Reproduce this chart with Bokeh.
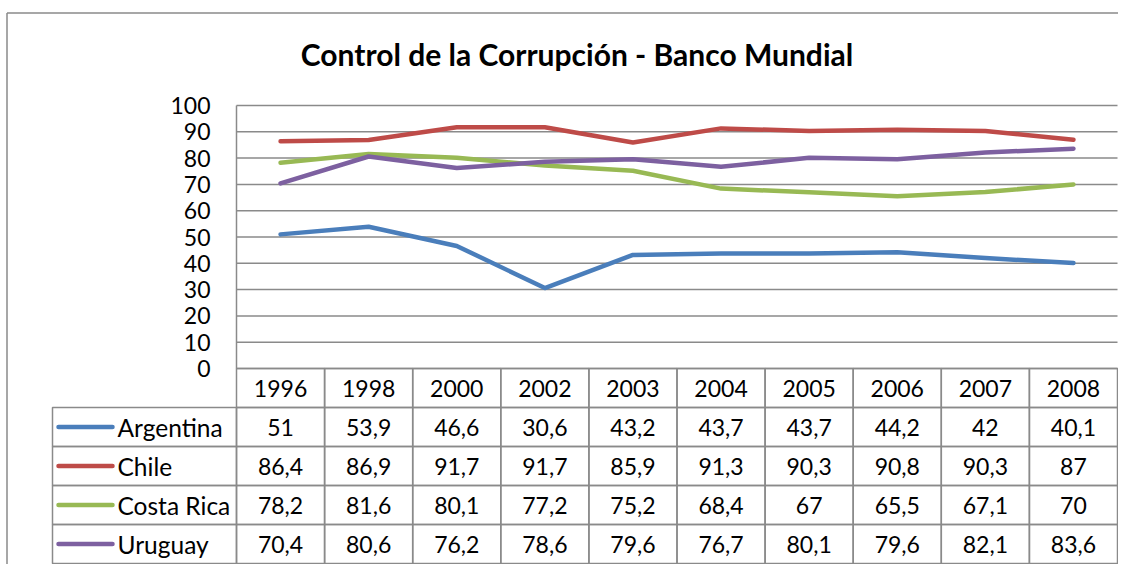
from bokeh.plotting import figure
from bokeh.models import Range1d, FixedTicker, Label
from bokeh.core.properties import value
from bokeh.embed import file_html
from bokeh.resources import INLINE

# ---------------- data ----------------
chart_title = "Control de la Corrupción - Banco Mundial"
years = ["1996", "1998", "2000", "2002", "2003", "2004", "2005", "2006", "2007", "2008"]
argentina = [51, 53.9, 46.6, 30.6, 43.2, 43.7, 43.7, 44.2, 42, 40.1]
chile = [86.4, 86.9, 91.7, 91.7, 85.9, 91.3, 90.3, 90.8, 90.3, 87]
costa_rica = [78.2, 81.6, 80.1, 77.2, 75.2, 68.4, 67, 65.5, 67.1, 70]
uruguay = [70.4, 80.6, 76.2, 78.6, 79.6, 76.7, 80.1, 79.6, 82.1, 83.6]
series_names = ["Argentina", "Chile", "Costa Rica", "Uruguay"]
series_values = [argentina, chile, costa_rica, uruguay]
series_colors = ["#4A7EBB", "#BE4B48", "#98B954", "#7D60A0"]
yticks = [0, 10, 20, 30, 40, 50, 60, 70, 80, 90, 100]

# ---------------- layout ----------------
W, H = 1118, 564
PLOT_L = 236.0     # px from canvas left to value axis
COL_W = 88.1       # px per category column
Y0 = 368.0         # px from canvas top to value 0
PX = 2.63          # px per value unit
ROW_PX = 39.0      # table row height, px
LABEL_PX = 184.0   # width of the row-label column, px

x_start = -PLOT_L / COL_W
x_end = (W - PLOT_L) / COL_W
y_end = Y0 / PX
y_start = -(H - Y0) / PX
ROW_H = ROW_PX / PX
LABEL_W = LABEL_PX / COL_W
n = len(years)

GRID = "#8A8A8A"
FONT = value("Lato")
NUM_SIZE = "23px"
NAME_SIZE = "24.5px"

p = figure(width=W, height=H, x_range=Range1d(x_start, x_end),
           y_range=Range1d(y_start, y_end), output_backend="svg",
           toolbar_location=None, min_border=0, x_axis_location=None)
p.grid.visible = False
p.outline_line_color = None
p.background_fill_color = "white"
p.border_fill_color = "white"

# value axis
yax = p.yaxis[0]
yax.fixed_location = 0
yax.ticker = FixedTicker(ticks=yticks)
yax.bounds = (0, 100)
yax.axis_line_color = GRID
yax.axis_line_width = 1.5
yax.major_tick_out = 0
yax.major_tick_in = 0
yax.minor_tick_line_color = None
yax.major_label_standoff = 26
yax.major_label_text_font = "Lato"
yax.major_label_text_font_size = NUM_SIZE
yax.major_label_text_color = "black"

# horizontal gridlines (only over the plot area)
p.segment(x0=0, x1=n, y0=yticks, y1=yticks, line_color=GRID, line_width=1.5)

# outer chart border (left and top)
bx = (6.5 - PLOT_L) / COL_W
by = (Y0 - 12.5) / PX
p.segment(x0=[bx, bx], x1=[x_end, bx], y0=[by, by], y1=[by, y_start],
          line_color=GRID, line_width=1.5)

# series lines
xs = [i + 0.5 for i in range(n)]
for vals, col in zip(series_values, series_colors):
    p.line(x=xs, y=vals, line_color=col, line_width=4.5,
           line_join="round", line_cap="round")

# ---------------- data table ----------------
p.quad(left=list(range(n)), right=[i + 1 for i in range(n)], top=0, bottom=-ROW_H,
       fill_color=None, line_color=GRID, line_width=1.5)
p.text(x=xs, y=[-ROW_H / 2] * n, text=years, text_font=FONT, text_font_size=NUM_SIZE,
       text_align="center", text_baseline="middle", text_color="black")


def fmt(v):
    return f"{v:g}".replace(".", ",")


for k, (name, vals, col) in enumerate(zip(series_names, series_values, series_colors)):
    top = -(k + 1) * ROW_H
    bot = -(k + 2) * ROW_H
    mid = (top + bot) / 2
    p.quad(left=[-LABEL_W] + list(range(n)), right=[0] + [i + 1 for i in range(n)],
           top=top, bottom=bot, fill_color=None, line_color=GRID, line_width=1.5)
    p.segment(x0=-LABEL_W + 6 / COL_W, x1=-LABEL_W + 60 / COL_W, y0=mid, y1=mid,
              line_color=col, line_width=4.5, line_cap="round")
    p.text(x=[-LABEL_W + 65 / COL_W], y=[mid], text=[name], text_font=FONT,
           text_font_size=NAME_SIZE, text_align="left", text_baseline="middle",
           text_color="black")
    p.text(x=xs, y=[mid] * n, text=[fmt(v) for v in vals], text_font=FONT,
           text_font_size=NUM_SIZE, text_align="center", text_baseline="middle",
           text_color="black")

# title
p.add_layout(Label(x=(576.5 - PLOT_L) / COL_W, y=(Y0 - 53) / PX, text=chart_title,
                   text_font="Lato", text_font_style="bold", text_font_size="30px",
                   text_align="center", text_baseline="middle", text_color="black"))

open("out.html", "w").write(file_html(p, INLINE))
